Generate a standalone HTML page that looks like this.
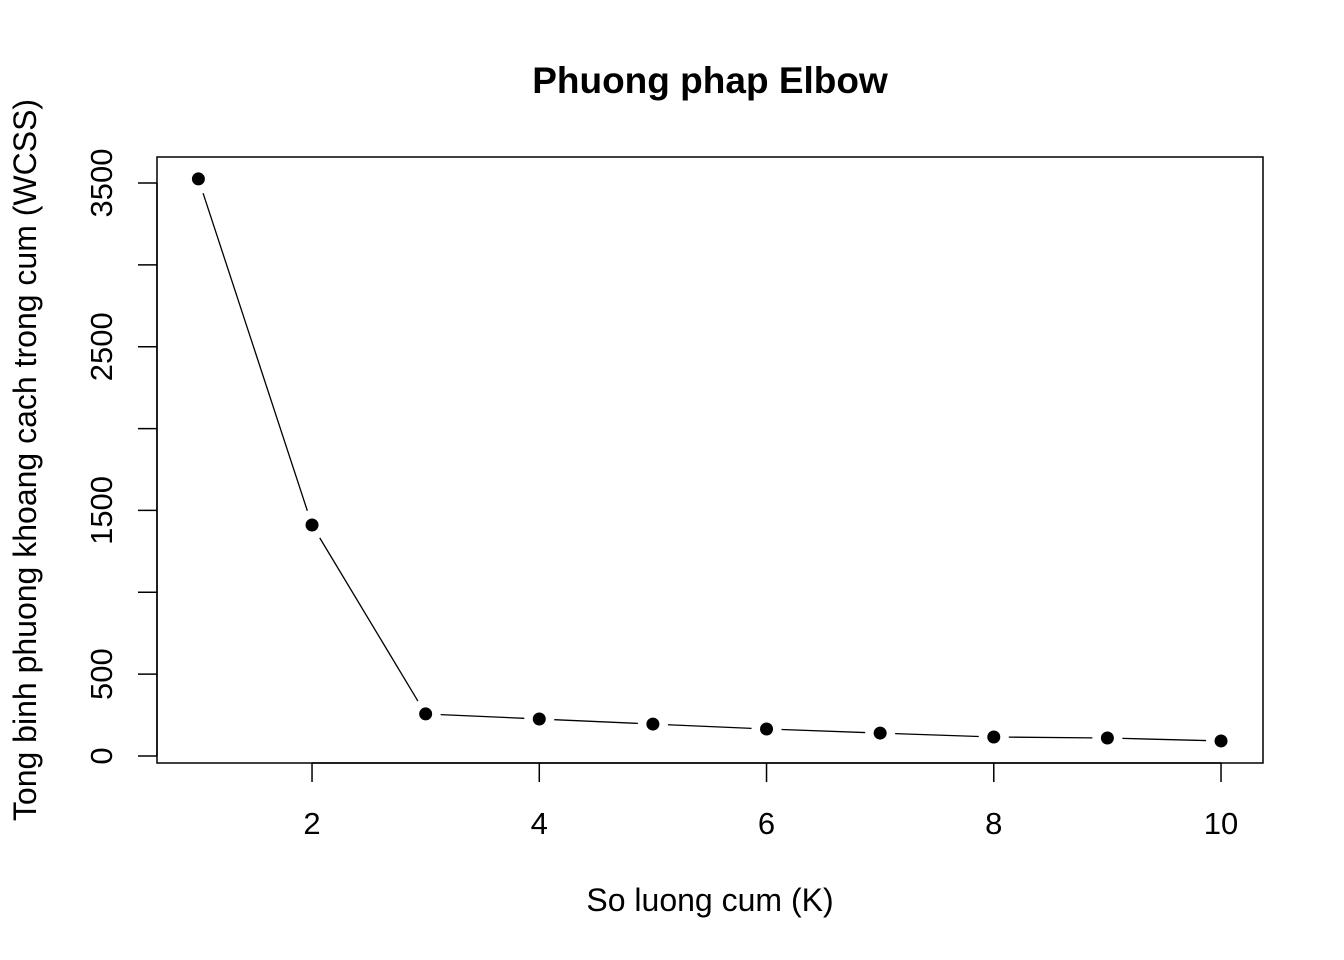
<!DOCTYPE html>
<html><head><meta charset="utf-8"><style>
html,body{margin:0;padding:0;background:#fff;}
svg{display:block;font-family:"Liberation Sans",Arial,sans-serif;}
</style></head><body>
<svg id="chart" width="1344" height="960">
<rect x="0" y="0" width="1344" height="960" fill="#fff"/>
<text x="710" y="93" text-anchor="middle" font-size="37" font-weight="bold">Phuong phap Elbow</text>
<rect x="157" y="157" width="1106" height="606" fill="none" stroke="#000" stroke-width="1.5"/>
<text x="710" y="911" text-anchor="middle" font-size="32">So luong cum (K)</text>
<text transform="translate(36,460) rotate(-90)" text-anchor="middle" font-size="32">Tong binh phuong khoang cach trong cum (WCSS)</text>
<g id="xaxis"></g>
<g id="yaxis"></g>
<g id="series"></g>
</svg>
<script>
const kValues=[1,2,3,4,5,6,7,8,9,10];
const wcssValues=[3525,1411,257,226,195,165,140,116,110,92];
const xTicks=[2,4,6,8,10];
const yTicks=[0,500,1000,1500,2000,2500,3000,3500];
const yTickLabels=["0","500","","1500","","2500","","3500"];
const NS="http://www.w3.org/2000/svg";
function xs(v){return 198.4+(v-1)*113.625;}
function ys(v){return 756-v*0.16371;}
function mk(tag,attrs,parent){const e=document.createElementNS(NS,tag);for(const k in attrs)e.setAttribute(k,attrs[k]);parent.appendChild(e);return e;}
const xa=document.getElementById('xaxis'),ya=document.getElementById('yaxis'),sr=document.getElementById('series');
mk('line',{x1:xs(2),x2:xs(10),y1:763,y2:763,stroke:'#000','stroke-width':1.5},xa);
xTicks.forEach(t=>{
  const l=mk('line',{x1:xs(t),x2:xs(t),y1:763,y2:782,stroke:'#000','stroke-width':1.5},xa);
  
  
  const tx=mk('text',{x:xs(t),y:834,'text-anchor':'middle','font-size':31},xa);
  tx.textContent=t;
  
  
});
mk('line',{x1:157,x2:157,y1:ys(0),y2:ys(3500),stroke:'#000','stroke-width':1.5},ya);
yTicks.forEach((t,i)=>{
  const l=mk('line',{x1:138,x2:157,y1:ys(t),y2:ys(t),stroke:'#000','stroke-width':1.5},ya);
  
  
  if(yTickLabels[i]){
    const tx=mk('text',{transform:`translate(112,${ys(t)}) rotate(-90)`,'text-anchor':'middle','font-size':31},ya);
    tx.textContent=yTickLabels[i];
    
    
  }
});
const gap=15;
for(let i=0;i<kValues.length-1;i++){
  const x1=xs(kValues[i]),y1=ys(wcssValues[i]),x2=xs(kValues[i+1]),y2=ys(wcssValues[i+1]);
  const d=Math.hypot(x2-x1,y2-y1);if(d<=2*gap)continue;
  const ux=(x2-x1)/d,uy=(y2-y1)/d;
  const l=mk('line',{x1:x1+ux*gap,y1:y1+uy*gap,x2:x2-ux*gap,y2:y2-uy*gap,stroke:'#000','stroke-width':1.3},sr);
  
  
}
kValues.forEach((k,i)=>{
  const c=mk('circle',{cx:xs(k),cy:ys(wcssValues[i]),r:6.5,fill:'#000'},sr);
  
  
});
</script>
</body></html>
